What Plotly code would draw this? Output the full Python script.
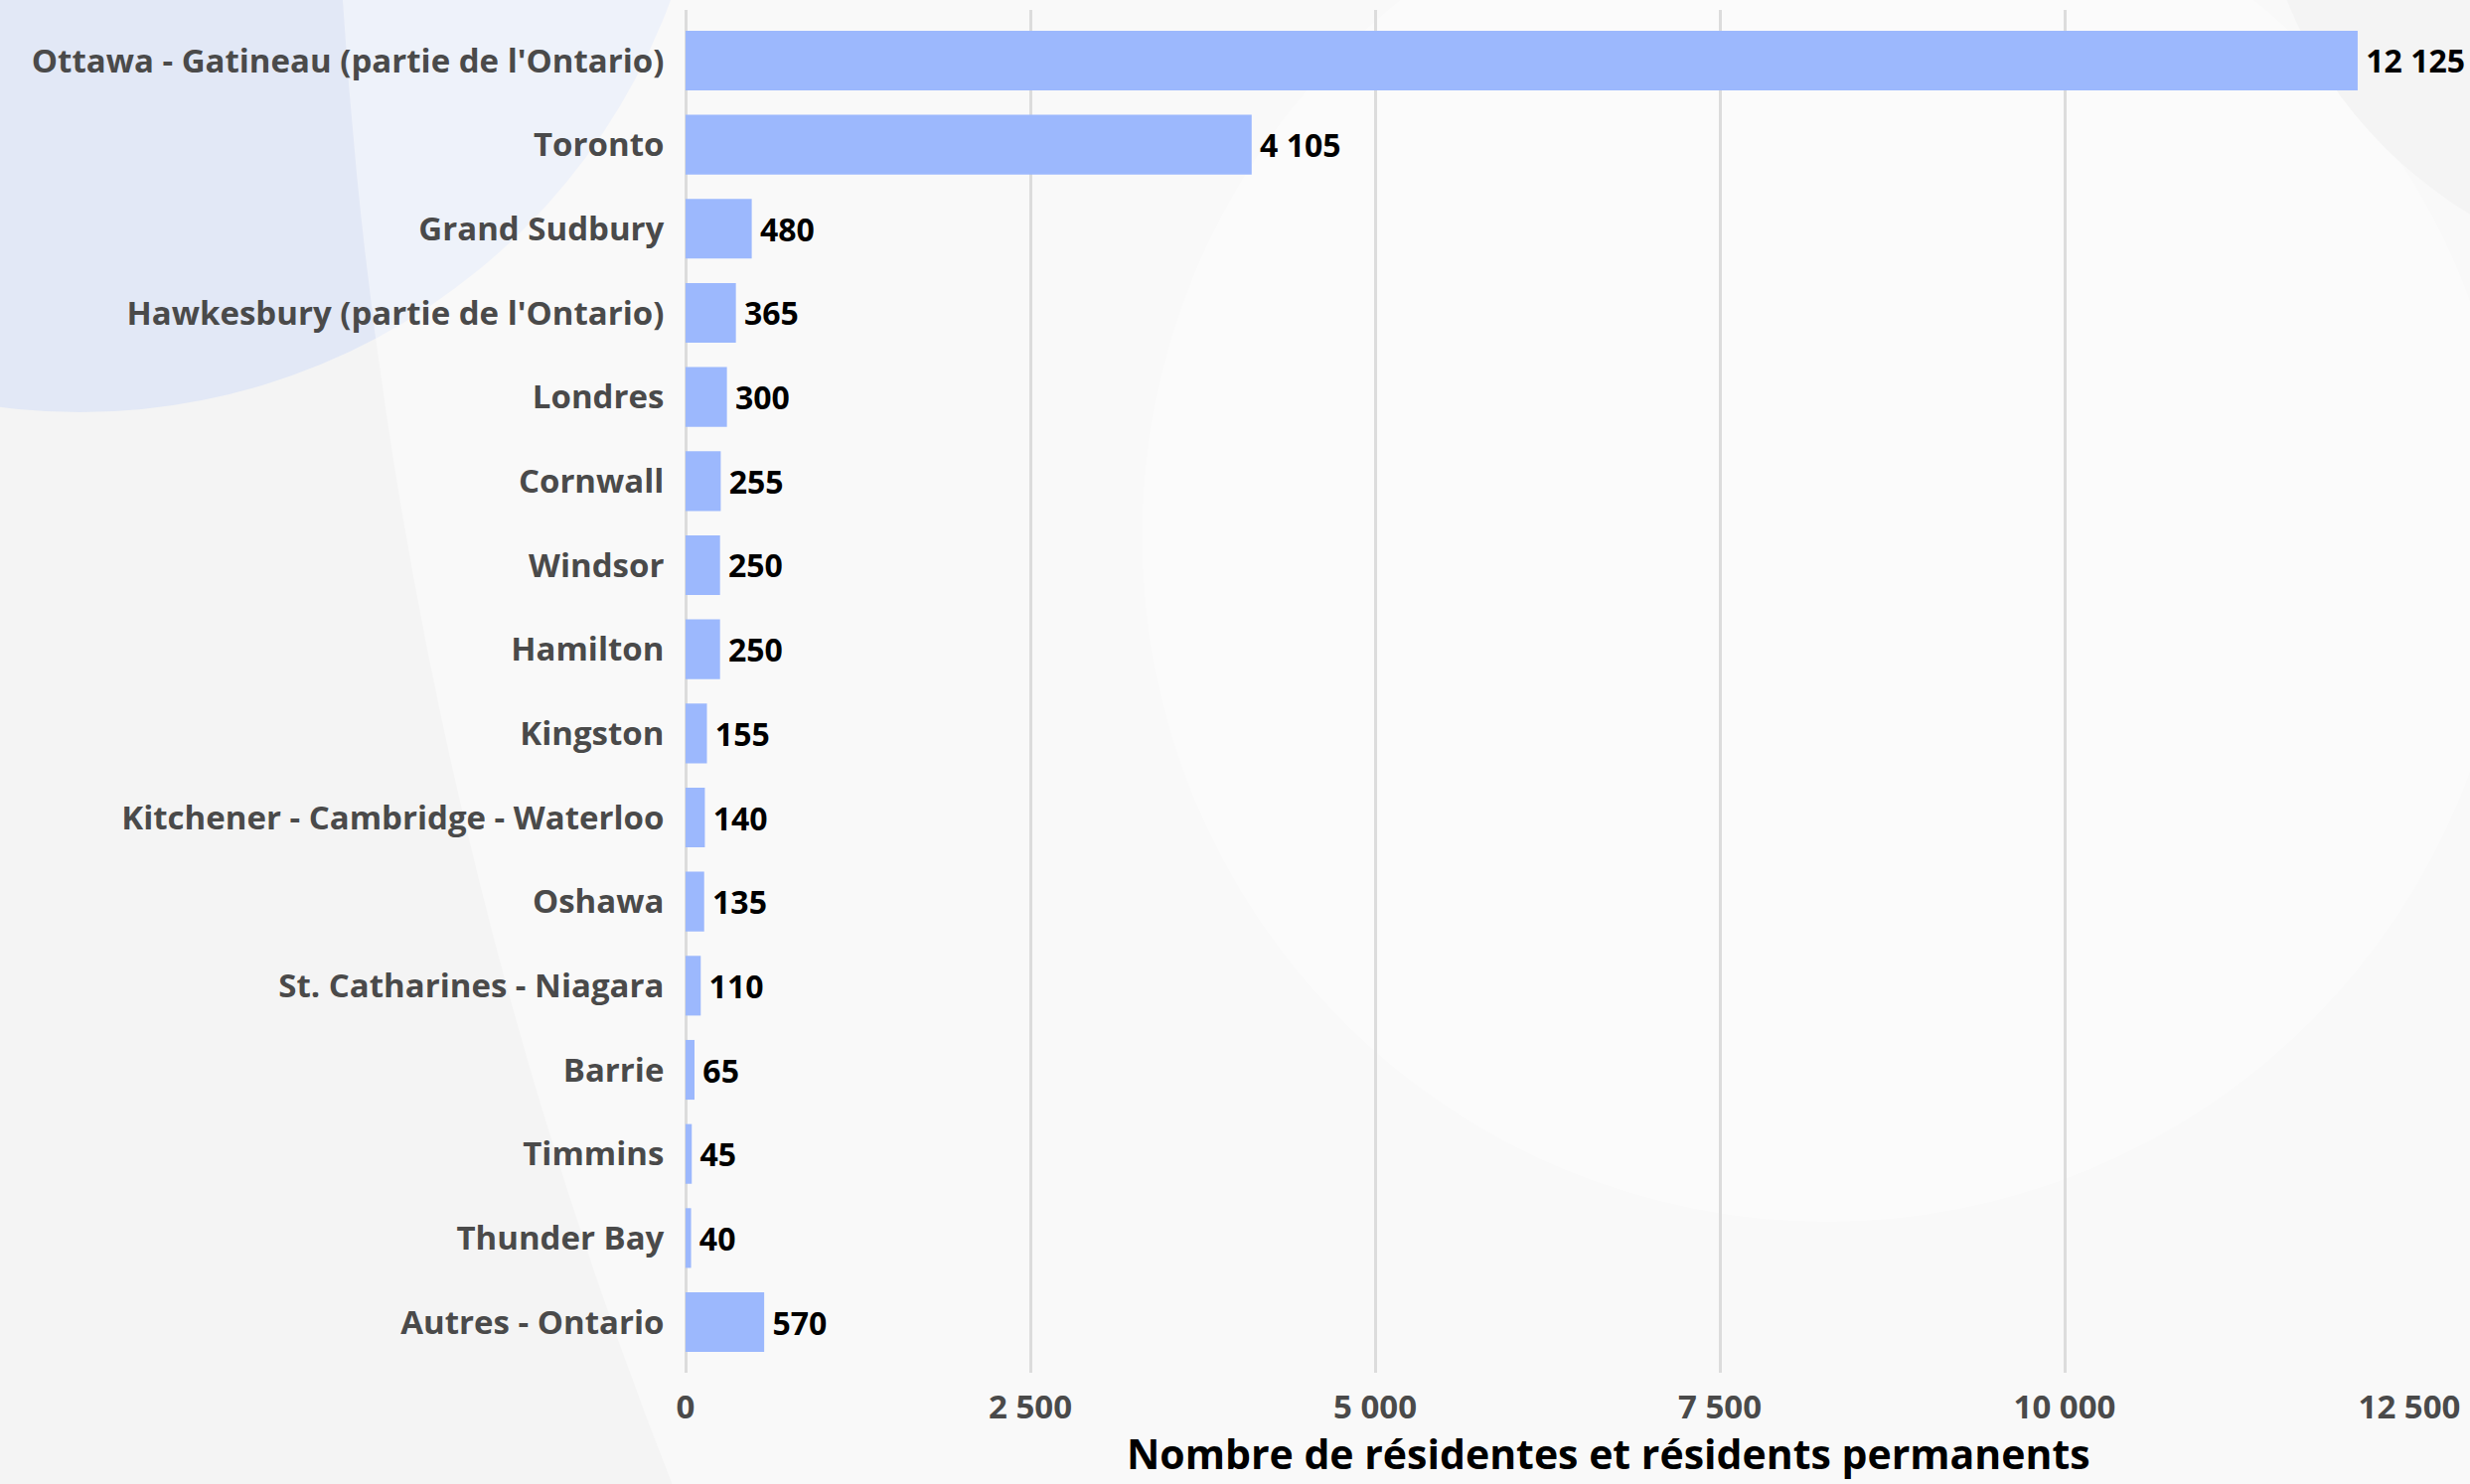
import plotly.graph_objects as go

categories = [
    "Ottawa - Gatineau (partie de l'Ontario)",
    "Toronto",
    "Grand Sudbury",
    "Hawkesbury (partie de l'Ontario)",
    "Londres",
    "Cornwall",
    "Windsor",
    "Hamilton",
    "Kingston",
    "Kitchener - Cambridge - Waterloo",
    "Oshawa",
    "St. Catharines - Niagara",
    "Barrie",
    "Timmins",
    "Thunder Bay",
    "Autres - Ontario",
]
values = [12125, 4105, 480, 365, 300, 255, 250, 250, 155, 140, 135, 110, 65, 45, 40, 570]
x_ticks = [0, 2500, 5000, 7500, 10000, 12500]
x_title = "Nombre de résidentes et résidents permanents"

W, H = 2486, 1494
L, R, T, B = 690, 59, 10, 112
PW, PH = W - L - R, H - T - B


def px_to_paper(x, y):
    return (x - L) / PW, (H - B - y) / PH


def circle(cx, cy, r, color, opacity=1.0):
    x0, y1 = px_to_paper(cx - r, cy - r)
    x1, y0 = px_to_paper(cx + r, cy + r)
    return dict(type="circle", xref="paper", yref="paper", x0=x0, x1=x1, y0=y0, y1=y1,
                fillcolor=color, opacity=opacity, line=dict(width=0), layer="below")


FONT = "'Open Sans', Lato, sans-serif"

fig = go.Figure(
    go.Bar(
        x=values,
        y=categories,
        orientation="h",
        marker=dict(color="#9cb8fd", line=dict(width=0)),
        text=values,
        texttemplate="\u2009%{x:,}",
        textposition="outside",
        cliponaxis=False,
        textfont=dict(family=FONT, size=32, color="#000000", weight="bold"),
        hoverinfo="skip",
    )
)

shapes = [
    circle(80, -219, 634, "#e2e8f6"),
    circle(5251, -306, 4916, "#ffffff", 0.42),
    circle(1840, 540, 690, "#ffffff", 0.4),
    circle(2720, -170, 450, "#f4f4f4"),
]

fig.update_layout(
    width=W,
    height=H,
    margin=dict(l=L, r=R, t=T, b=B, pad=0),
    paper_bgcolor="#f4f4f4",
    plot_bgcolor="rgba(0,0,0,0)",
    separators=", ",
    bargap=0.29,
    showlegend=False,
    shapes=shapes,
    font=dict(family=FONT),
    xaxis=dict(
        range=[0, 12500],
        tickvals=x_ticks,
        tickformat=",",
        showgrid=True,
        gridcolor="#dcdcdc",
        gridwidth=3,
        zeroline=True,
        zerolinecolor="#dcdcdc",
        zerolinewidth=3,
        showline=False,
        ticks="outside",
        ticklen=5,
        tickcolor="rgba(0,0,0,0)",
        tickfont=dict(family=FONT, size=33, color="#4a4a4a", weight="bold"),
        fixedrange=True,
    ),
    yaxis=dict(
        type="category",
        categoryorder="array",
        categoryarray=categories,
        range=[15.602, -0.602],
        showgrid=False,
        zeroline=False,
        showline=False,
        ticks="outside",
        ticklen=14,
        tickcolor="rgba(0,0,0,0)",
        tickfont=dict(family=FONT, size=33, color="#4a4a4a", weight="bold"),
        fixedrange=True,
    ),
    annotations=[
        dict(
            text=x_title,
            xref="paper",
            yref="paper",
            x=(1620 - L) / PW,
            y=(H - B - 1463) / PH,
            xanchor="center",
            yanchor="middle",
            showarrow=False,
            font=dict(family=FONT, size=41, color="#000000", weight="bold"),
        )
    ],
)

fig.write_html(
    "out.html",
    config={"displayModeBar": False},
    post_script="document.body.style.margin='0';document.body.style.padding='0';document.body.style.overflow='hidden';",
)
